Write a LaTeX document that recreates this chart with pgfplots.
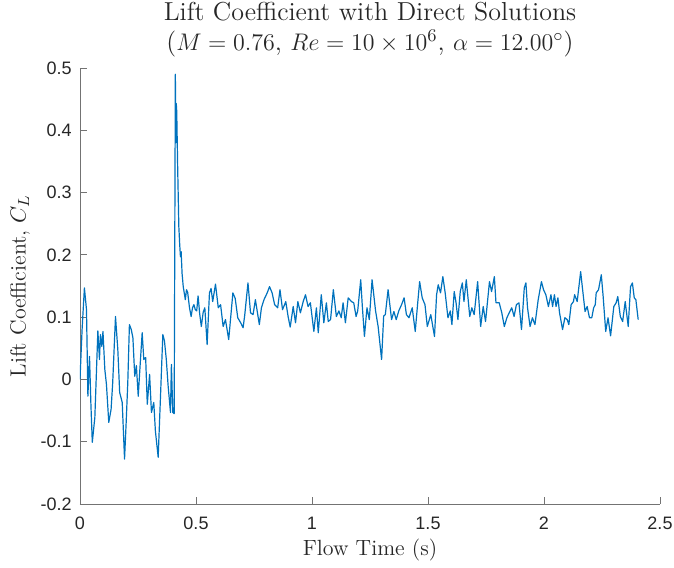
\documentclass[border=0pt]{standalone}
\usepackage{fontspec}
\usepackage{pgfplots}
\pgfplotsset{compat=1.18}
\newfontfamily\arialfont{Liberation Sans}
\definecolor{mblue}{RGB}{0,114,189}
\definecolor{mtext}{RGB}{38,38,38}
\begin{document}
\begin{tikzpicture}
\begin{axis}[
  name=ax,
  scale only axis,
  width=290pt, height=218pt,
  xmin=0, xmax=2.5, ymin=-0.2, ymax=0.5,
  axis x line*=bottom, axis y line*=left,
  axis line style={black!55, line width=0.45pt},
  tick style={black!55, line width=0.45pt},
  tick align=inside,
  major tick length=3.5pt,
  xtick={0,0.5,1,1.5,2,2.5},
  ytick={-0.2,-0.1,0,0.1,0.2,0.3,0.4,0.5},
  /pgf/number format/assume math mode=true,
  ticklabel style={font=\arialfont\fontsize{9}{10}\selectfont, text=mtext, inner sep=0pt},
  xticklabel style={yshift=-6.5pt},
  yticklabel style={xshift=-4pt},
  xlabel={Flow Time (s)},
  ylabel={Lift Coefficient, $C_L$},
  label style={font=\fontsize{11}{12}\selectfont, text=mtext},
  x label style={at={(axis description cs:0.5,0)}, anchor=center, yshift=-23pt},
  y label style={at={(axis description cs:0,0.5)}, anchor=center, yshift=30pt},
  title={Lift Coefficient with Direct Solutions\\($M = 0.76$, $Re = 10 \times 10^{6}$, $\alpha = 12.00^{\circ}$)},
  title style={font=\fontsize{13}{15}\selectfont, align=center, text=black!85, inner sep=0pt, yshift=-0.5pt},
]
\addplot[mblue, line width=0.6pt, line join=round] table {
x y
0.000 0.000
0.009 0.080
0.019 0.147
0.028 0.112
0.034 -0.027
0.041 0.037
0.047 -0.040
0.053 -0.101
0.064 -0.061
0.077 0.078
0.084 0.032
0.088 0.072
0.094 0.053
0.099 0.077
0.107 0.016
0.114 -0.008
0.124 -0.069
0.134 -0.048
0.141 -0.005
0.153 0.101
0.163 0.048
0.171 -0.021
0.182 -0.037
0.192 -0.128
0.199 -0.069
0.206 -0.005
0.213 0.088
0.221 0.080
0.228 0.067
0.236 0.005
0.243 0.022
0.251 -0.027
0.258 0.016
0.268 0.075
0.275 0.032
0.283 0.035
0.290 -0.040
0.300 0.008
0.308 -0.053
0.318 -0.037
0.325 -0.083
0.337 -0.125
0.347 -0.027
0.357 0.072
0.364 0.062
0.372 0.032
0.380 -0.011
0.390 -0.053
0.394 0.024
0.400 -0.053
0.406 -0.055
0.411 0.490
0.413 0.380
0.415 0.443
0.417 0.430
0.421 0.340
0.426 0.245
0.430 0.215
0.433 0.197
0.436 0.205
0.440 0.170
0.445 0.149
0.454 0.128
0.459 0.144
0.464 0.140
0.472 0.115
0.479 0.101
0.485 0.115
0.491 0.120
0.497 0.112
0.503 0.110
0.509 0.134
0.516 0.105
0.523 0.085
0.531 0.108
0.538 0.115
0.548 0.056
0.558 0.139
0.565 0.146
0.572 0.125
0.584 0.153
0.596 0.115
0.606 0.120
0.617 0.085
0.627 0.096
0.641 0.064
0.659 0.139
0.669 0.130
0.680 0.099
0.694 0.090
0.703 0.083
0.710 0.103
0.724 0.155
0.735 0.107
0.746 0.104
0.756 0.128
0.773 0.088
0.782 0.115
0.793 0.128
0.807 0.139
0.817 0.149
0.828 0.139
0.839 0.120
0.852 0.115
0.862 0.144
0.873 0.112
0.887 0.125
0.897 0.101
0.906 0.084
0.919 0.117
0.929 0.091
0.939 0.125
0.950 0.107
0.962 0.125
0.972 0.136
0.983 0.117
0.993 0.123
1.008 0.077
1.019 0.115
1.027 0.075
1.040 0.136
1.051 0.091
1.062 0.123
1.070 0.093
1.080 0.096
1.092 0.144
1.105 0.101
1.116 0.110
1.126 0.099
1.134 0.123
1.144 0.091
1.156 0.131
1.170 0.125
1.180 0.123
1.190 0.101
1.197 0.110
1.210 0.160
1.217 0.117
1.226 0.069
1.237 0.115
1.247 0.096
1.259 0.160
1.274 0.110
1.285 0.085
1.300 0.032
1.309 0.102
1.316 0.104
1.328 0.144
1.343 0.096
1.353 0.109
1.363 0.096
1.374 0.110
1.386 0.120
1.397 0.131
1.407 0.104
1.418 0.099
1.432 0.115
1.445 0.077
1.455 0.120
1.464 0.157
1.475 0.131
1.487 0.120
1.497 0.085
1.512 0.104
1.528 0.069
1.537 0.136
1.544 0.152
1.554 0.139
1.564 0.165
1.574 0.139
1.586 0.099
1.596 0.110
1.603 0.088
1.613 0.141
1.621 0.123
1.629 0.096
1.639 0.141
1.648 0.155
1.655 0.125
1.665 0.160
1.680 0.101
1.689 0.115
1.699 0.104
1.714 0.157
1.727 0.085
1.738 0.117
1.748 0.093
1.765 0.157
1.774 0.141
1.786 0.165
1.793 0.123
1.807 0.123
1.818 0.107
1.829 0.085
1.840 0.099
1.850 0.107
1.861 0.115
1.871 0.101
1.881 0.120
1.892 0.123
1.903 0.080
1.915 0.147
1.922 0.155
1.929 0.115
1.940 0.085
1.950 0.099
1.961 0.088
1.975 0.128
1.989 0.157
1.998 0.144
2.008 0.136
2.019 0.117
2.030 0.136
2.037 0.117
2.045 0.136
2.052 0.117
2.060 0.131
2.067 0.107
2.080 0.080
2.090 0.099
2.100 0.096
2.107 0.088
2.117 0.120
2.127 0.125
2.132 0.136
2.143 0.125
2.158 0.173
2.165 0.149
2.177 0.109
2.186 0.117
2.196 0.099
2.206 0.099
2.214 0.115
2.221 0.120
2.225 0.139
2.235 0.144
2.247 0.168
2.255 0.133
2.266 0.077
2.276 0.099
2.287 0.070
2.301 0.117
2.311 0.123
2.318 0.133
2.329 0.101
2.339 0.093
2.350 0.125
2.363 0.085
2.373 0.149
2.381 0.155
2.389 0.131
2.396 0.128
2.406 0.096
};
\end{axis}
\path ([xshift=-40pt,yshift=-29pt]ax.south west) rectangle ([xshift=7pt,yshift=34pt]ax.north east);
\end{tikzpicture}
\end{document}
